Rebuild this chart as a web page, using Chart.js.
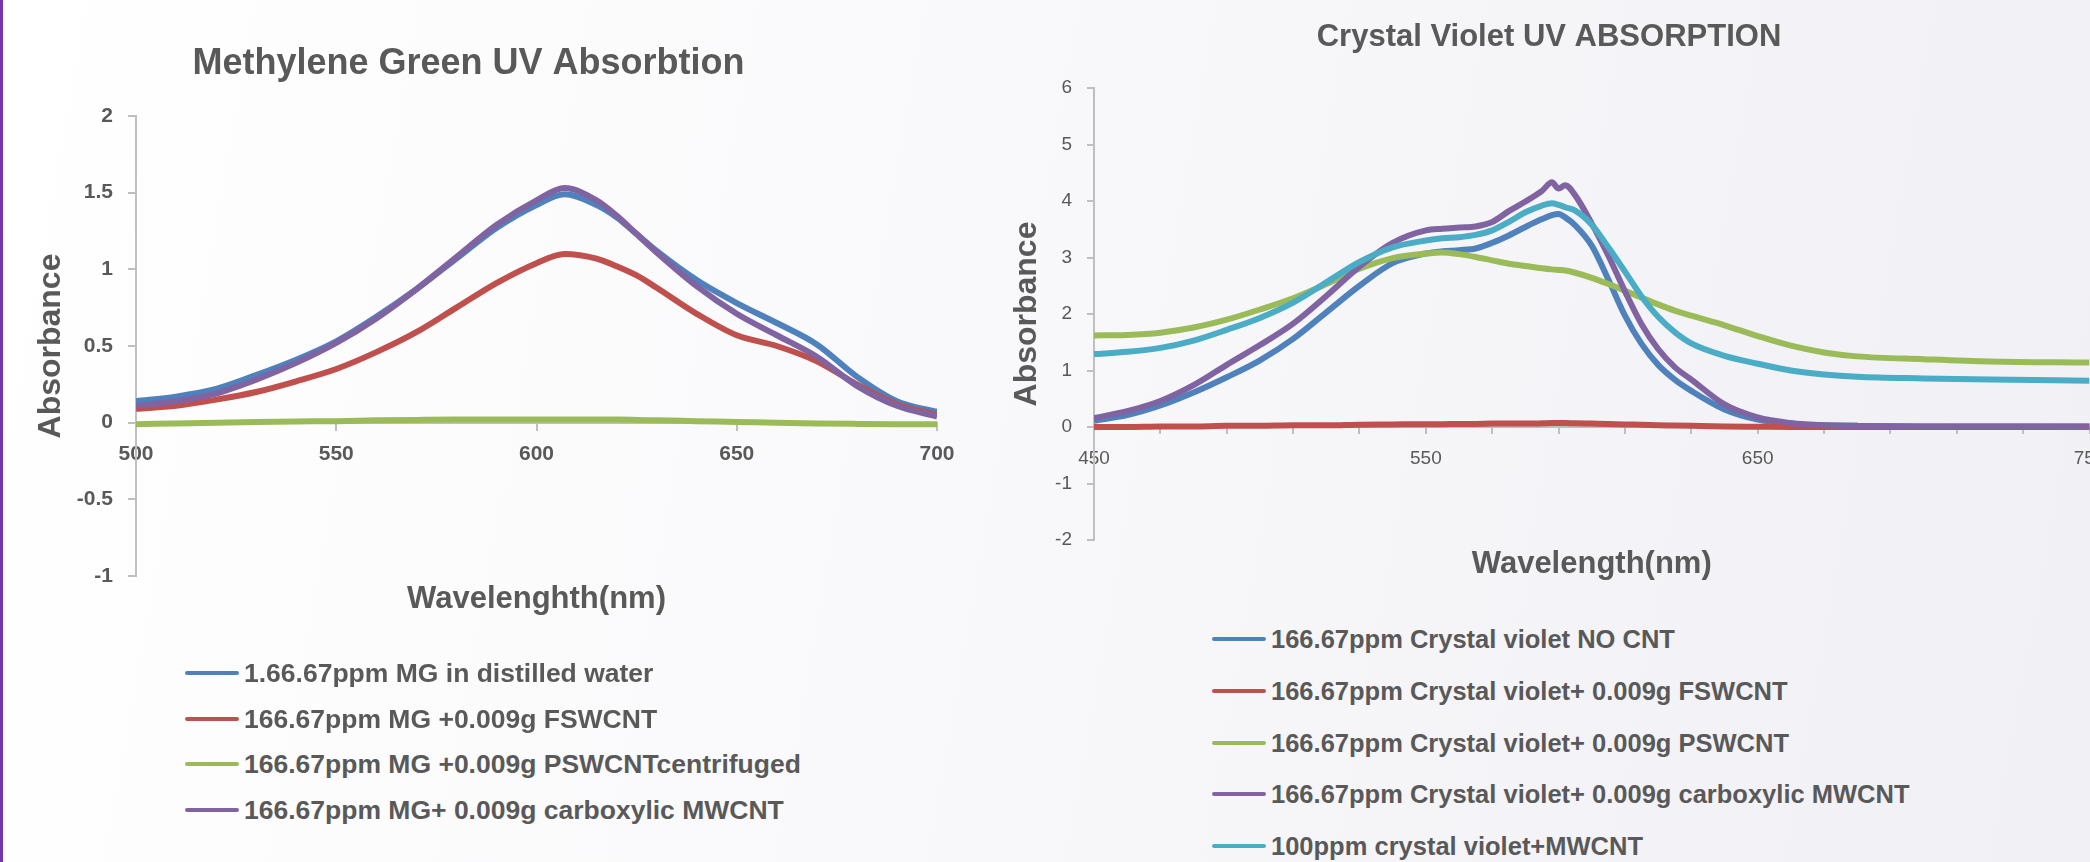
<!DOCTYPE html>
<html>
<head>
<meta charset="utf-8">
<script src="https://cdn.jsdelivr.net/npm/chart.js@4.4.1/dist/chart.umd.min.js"></script>
<style>
  html, body { margin: 0; padding: 0; overflow: hidden; }
  body {
    width: 2090px; height: 862px; position: relative;
    background: linear-gradient(100deg, #ffffff 0%, #f9f9fb 45%, #f0f0f5 100%);
    font-family: "Liberation Sans", Arial, sans-serif; color: #595959;
  }
  #edge { position: absolute; left: 0; top: 0; width: 3px; height: 862px; background: #7436ad; }
  canvas { position: absolute; top: 0; }
  #mgChart { left: 0; }
  #cvChart { left: 1000px; }
  .legend { position: absolute; font-weight: bold; }
  .legend .item { position: absolute; left: 0; height: 30px; line-height: 30px; display: flex; align-items: center; white-space: nowrap; }
  .legend .swatch { width: 54px; height: 4px; border-radius: 2px; margin-right: 5px; }
</style>
</head>
<body>
<div id="edge"></div>
<canvas id="mgChart" width="982" height="660"></canvas>
<canvas id="cvChart" width="1120" height="620"></canvas>
<div class="legend" id="mgLegend"></div>
<div class="legend" id="cvLegend"></div>
<script>
// --- Methylene Green (left chart) ---
const mgWavelengths = [500, 510, 520, 530, 540, 550, 560, 570, 580, 590, 600, 607, 615, 620, 625, 630, 640, 650, 660, 670, 680, 690, 700];
const mgWater    = [0.14, 0.17, 0.22, 0.31, 0.41, 0.53, 0.69, 0.87, 1.07, 1.27, 1.42, 1.49, 1.42, 1.34, 1.23, 1.12, 0.93, 0.78, 0.65, 0.51, 0.30, 0.14, 0.07];
const mgFswcnt   = [0.09, 0.11, 0.15, 0.20, 0.27, 0.35, 0.46, 0.59, 0.75, 0.91, 1.04, 1.10, 1.07, 1.02, 0.96, 0.88, 0.71, 0.57, 0.50, 0.40, 0.25, 0.12, 0.05];
const mgPswcnt   = [-0.01, -0.005, 0, 0.005, 0.008, 0.01, 0.015, 0.018, 0.02, 0.02, 0.02, 0.02, 0.02, 0.02, 0.018, 0.015, 0.01, 0.005, 0, -0.005, -0.008, -0.01, -0.01];
const mgCarboxyl = [0.11, 0.14, 0.19, 0.28, 0.39, 0.52, 0.68, 0.87, 1.08, 1.29, 1.45, 1.53, 1.45, 1.35, 1.23, 1.11, 0.89, 0.71, 0.57, 0.43, 0.24, 0.11, 0.04];
const mgLabels = [
  '1.66.67ppm MG in distilled water',
  '166.67ppm MG +0.009g FSWCNT',
  '166.67ppm MG +0.009g PSWCNTcentrifuged',
  '166.67ppm MG+ 0.009g carboxylic MWCNT'
];
const mgColors = ['#4F81BD', '#C0504D', '#9BBB59', '#8064A2'];
const mgYTicks = [-1, -0.5, 0, 0.5, 1, 1.5, 2];
const mgXTicks = [500, 550, 600, 650, 700];

// --- Crystal Violet (right chart) ---
const cvWavelengths = [450, 460, 470, 480, 490, 500, 510, 520, 530, 540, 550, 555, 560, 565, 570, 575, 580, 585, 588, 590, 592, 595, 600, 605, 610, 615, 620, 625, 630, 640, 650, 660, 670, 680, 700, 720, 750];
const cvNoCnt    = [0.11, 0.21, 0.38, 0.61, 0.88, 1.18, 1.56, 2.03, 2.50, 2.90, 3.07, 3.11, 3.13, 3.16, 3.26, 3.39, 3.54, 3.68, 3.75, 3.77, 3.71, 3.57, 3.21, 2.61, 1.97, 1.47, 1.10, 0.84, 0.64, 0.31, 0.13, 0.05, 0.03, 0.02, 0.01, 0.01, 0.01];
const cvFswcnt   = [0, 0, 0.01, 0.01, 0.02, 0.02, 0.03, 0.03, 0.04, 0.045, 0.05, 0.05, 0.055, 0.055, 0.06, 0.06, 0.06, 0.065, 0.07, 0.07, 0.07, 0.065, 0.06, 0.055, 0.045, 0.04, 0.03, 0.025, 0.02, 0.01, 0.005, 0, 0, 0, 0, 0, 0];
const cvPswcnt   = [1.62, 1.63, 1.67, 1.76, 1.90, 2.08, 2.28, 2.53, 2.80, 2.99, 3.07, 3.09, 3.06, 3.01, 2.95, 2.89, 2.85, 2.81, 2.79, 2.78, 2.77, 2.73, 2.64, 2.53, 2.41, 2.29, 2.17, 2.06, 1.97, 1.80, 1.61, 1.44, 1.32, 1.25, 1.20, 1.16, 1.14];
const cvCarboxyl = [0.16, 0.28, 0.46, 0.74, 1.10, 1.45, 1.83, 2.32, 2.84, 3.26, 3.48, 3.51, 3.53, 3.55, 3.63, 3.82, 3.99, 4.18, 4.33, 4.22, 4.28, 4.10, 3.60, 3.03, 2.40, 1.82, 1.38, 1.06, 0.84, 0.40, 0.17, 0.07, 0.03, 0.02, 0.01, 0.01, 0.01];
const cvMwcnt    = [1.29, 1.33, 1.40, 1.53, 1.72, 1.93, 2.20, 2.56, 2.92, 3.18, 3.30, 3.34, 3.36, 3.40, 3.48, 3.63, 3.80, 3.92, 3.96, 3.93, 3.89, 3.83, 3.58, 3.18, 2.75, 2.31, 1.95, 1.68, 1.48, 1.26, 1.12, 1.00, 0.93, 0.89, 0.86, 0.84, 0.82];
const cvLabels = [
  '166.67ppm Crystal violet NO CNT',
  '166.67ppm Crystal violet+ 0.009g FSWCNT',
  '166.67ppm Crystal violet+ 0.009g PSWCNT',
  '166.67ppm Crystal violet+ 0.009g carboxylic MWCNT',
  '100ppm crystal violet+MWCNT'
];
const cvColors = ['#4F81BD', '#C0504D', '#9BBB59', '#8064A2', '#4BACC6'];
const cvYTicks = [-2, -1, 0, 1, 2, 3, 4, 5, 6];
const cvXTicks = [450, 470, 490, 510, 530, 550, 570, 590, 610, 630, 650, 670, 690, 710, 730, 750];
const cvXLabels = [450, 550, 650, 750];

const textColor = '#595959';
const axisColor = '#BFBFBF';
Chart.defaults.font.family = '"Liberation Sans", Arial, sans-serif';

// later series drawn on top, as in the original
function buildDatasets(wavelengths, series, labels, colors) {
  return series.map((values, i) => ({
    label: labels[i],
    data: values.map((v, k) => ({ x: wavelengths[k], y: v })),
    borderColor: colors[i],
    backgroundColor: colors[i],
    borderWidth: 6,
    pointRadius: 0,
    cubicInterpolationMode: 'monotone',
    order: series.length - i
  }));
}

function buildLegend(id, labels, colors, left, firstY, step, fontSize) {
  const box = document.getElementById(id);
  box.style.left = left + 'px';
  box.style.top = '0px';
  box.style.fontSize = fontSize + 'px';
  labels.forEach((label, i) => {
    const item = document.createElement('div');
    item.className = 'item';
    item.style.top = (firstY + i * step - 15) + 'px';
    const swatch = document.createElement('span');
    swatch.className = 'swatch';
    swatch.style.background = colors[i];
    const text = document.createElement('span');
    text.textContent = label;
    item.appendChild(swatch);
    item.appendChild(text);
    box.appendChild(item);
  });
}

// Grafico Methylene Green
new Chart(document.getElementById('mgChart'), {
  type: 'line',
  data: { datasets: buildDatasets(mgWavelengths, [mgWater, mgFswcnt, mgPswcnt, mgCarboxyl], mgLabels, mgColors) },
  options: {
    responsive: false,
    animation: false,
    devicePixelRatio: 1,
    layout: { padding: { left: 0, top: 0, right: 45, bottom: 84 } },
    plugins: {
      legend: { display: false },
      tooltip: { enabled: false },
      title: {
        display: true,
        text: 'Methylene Green UV Absorbtion',
        color: textColor,
        font: { size: 36, weight: 'bold' },
        padding: { top: 42.4, bottom: 30.4 }
      }
    },
    scales: {
      x: {
        type: 'linear', min: 500, max: 700,
        position: { y: 0 },
        afterBuildTicks: s => { s.ticks = mgXTicks.map(v => ({ value: v })); },
        afterFit: s => { s.height = 195.6; },
        border: { color: axisColor, width: 2 },
        grid: { drawOnChartArea: false, tickLength: 7, color: axisColor, lineWidth: 2 },
        ticks: { padding: 12, autoSkip: false, maxRotation: 0, color: textColor, font: { size: 21, weight: 'bold' }, callback: v => String(v) },
        title: { display: true, text: 'Wavelenghth(nm)', color: textColor, font: { size: 31, weight: 'bold' }, padding: 0 }
      },
      y: {
        min: -1, max: 2,
        afterBuildTicks: s => { s.ticks = mgYTicks.map(v => ({ value: v })); },
        afterFit: s => { s.width = 136; },
        border: { color: axisColor, width: 2 },
        grid: { drawOnChartArea: false, tickLength: 8, color: axisColor, lineWidth: 2 },
        ticks: { padding: 15, color: textColor, font: { size: 21, weight: 'bold' }, callback: v => String(v) },
        title: { display: true, text: 'Absorbance', color: textColor, font: { size: 32, weight: 'bold' }, padding: { top: 31.8, bottom: 0 } }
      }
    }
  }
});

// Grafico Crystal Violet
new Chart(document.getElementById('cvChart'), {
  type: 'line',
  data: { datasets: buildDatasets(cvWavelengths, [cvNoCnt, cvFswcnt, cvPswcnt, cvCarboxyl, cvMwcnt], cvLabels, cvColors) },
  options: {
    responsive: false,
    animation: false,
    devicePixelRatio: 1,
    layout: { padding: { left: 0, top: 0, right: 22, bottom: 80 } },
    plugins: {
      legend: { display: false },
      tooltip: { enabled: false },
      title: {
        display: true,
        text: 'Crystal Violet UV ABSORPTION',
        color: textColor,
        font: { size: 31, weight: 'bold' },
        padding: { top: 18.4, bottom: 32.4 }
      }
    },
    scales: {
      x: {
        type: 'linear', min: 450, max: 750,
        position: { y: 0 },
        afterBuildTicks: s => { s.ticks = cvXTicks.map(v => ({ value: v })); },
        afterFit: s => { s.height = 155.6; },
        border: { color: axisColor, width: 2 },
        grid: { drawOnChartArea: false, tickLength: 6, color: axisColor, lineWidth: 2 },
        ticks: { padding: 14.6, autoSkip: false, maxRotation: 0, color: textColor, font: { size: 19 }, callback: v => cvXLabels.includes(v) ? String(v) : '' },
        title: { display: true, text: 'Wavelength(nm)', color: textColor, font: { size: 31, weight: 'bold' }, padding: 0 }
      },
      y: {
        min: -2, max: 6,
        afterBuildTicks: s => { s.ticks = cvYTicks.map(v => ({ value: v })); },
        afterFit: s => { s.width = 94; },
        border: { color: axisColor, width: 2 },
        grid: { drawOnChartArea: false, tickLength: 7, color: axisColor, lineWidth: 2 },
        ticks: { padding: 15, color: textColor, font: { size: 19 }, callback: v => String(v) },
        title: { display: true, text: 'Absorbance', color: textColor, font: { size: 32, weight: 'bold' }, padding: { top: 8.3, bottom: 0 } }
      }
    }
  }
});

buildLegend('mgLegend', mgLabels, mgColors, 185, 673, 45.7, 26.5);
buildLegend('cvLegend', cvLabels, cvColors, 1212, 639, 51.75, 25.5);
</script>
</body>
</html>
